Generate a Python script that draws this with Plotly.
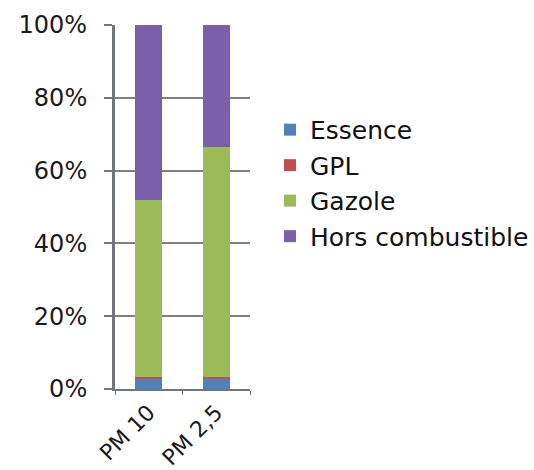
import plotly.graph_objects as go

# Share of particulate emissions by fuel type (%)
categories = ["PM 10", "PM 2,5"]
essence = [3.0, 3.0]
gpl = [0.3, 0.3]
gazole = [48.7, 63.2]
hors_combustible = [48.0, 33.5]

y_tick_values = [0, 20, 40, 60, 80, 100]
y_tick_labels = ["0%", "20%", "40%", "60%", "80%", "100%"]

series = [
    ("Essence", essence, "#4F81BD"),
    ("GPL", gpl, "#C0504D"),
    ("Gazole", gazole, "#9BBB59"),
    ("Hors combustible", hors_combustible, "#7B5FA8"),
]

FONT = "DejaVu Sans, Arial, sans-serif"

fig = go.Figure()
for name, vals, color in series:
    fig.add_trace(go.Bar(
        x=categories, y=vals, name=name, legendgroup=name,
        marker=dict(color=color, line=dict(width=0)),
        width=0.4,
    ))

fig.update_layout(
    barmode="stack",
    width=534, height=470,
    margin=dict(l=115, r=284, t=25, b=81, autoexpand=False),
    plot_bgcolor="white", paper_bgcolor="white",
    font=dict(family=FONT, size=22, color="#1a1a1a"),
    legend=dict(
        x=1.148, y=0.775, xanchor="left", yanchor="top",
        font=dict(family=FONT, size=25, color="#111"),
        traceorder="normal",
        itemwidth=30, tracegroupgap=5,
        bgcolor="rgba(0,0,0,0)",
    ),
    showlegend=True,
)

fig.update_yaxes(
    range=[0, 100], tickmode="array",
    tickvals=y_tick_values, ticktext=y_tick_labels,
    showgrid=True, gridcolor="#808080", gridwidth=1.5,
    showline=True, linecolor="#6d767b", linewidth=3,
    ticks="outside", ticklen=8, tickcolor="#6d767b", tickwidth=2,
    ticklabelstandoff=12, automargin=False,
    zeroline=False, tickfont=dict(family=FONT, size=24),
)
fig.update_xaxes(
    showline=True, linecolor="#6d767b", linewidth=2,
    tickangle=-45, tickfont=dict(family=FONT, size=22),
    ticks="outside", tickson="boundaries", ticklen=4,
    tickcolor="#6d767b", showgrid=False, automargin=False,
)

fig.write_html("out.html")
